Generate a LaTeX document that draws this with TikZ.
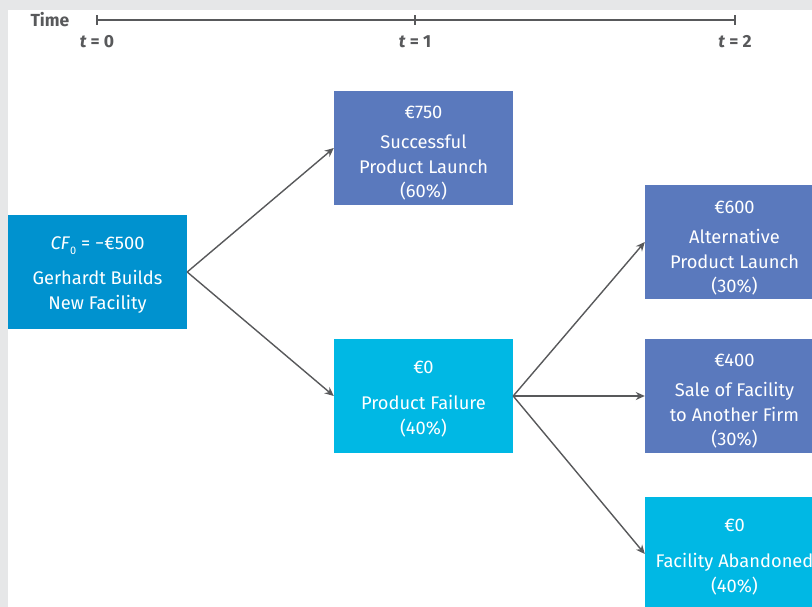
\documentclass[tikz,border=0pt]{standalone}
\usepackage{fontspec}
\setmainfont{Fira Sans}
\usetikzlibrary{arrows.meta}
\definecolor{bggray}{RGB}{230,231,232}
\definecolor{rootblue}{RGB}{0,146,207}
\definecolor{midblue}{RGB}{90,121,189}
\definecolor{cyanbox}{RGB}{0,184,228}
\definecolor{linegray}{RGB}{88,89,91}
\begin{document}
\begin{tikzpicture}[x=1pt,y=-1pt,
  box/.style={minimum width=179pt,minimum height=114pt,inner sep=0pt,text=white,align=center,font=\fontsize{18.3}{24.5}\selectfont},
  conn/.style={draw=linegray,line width=1.4pt,-{Stealth[length=9pt,width=8pt]}},
  axis/.style={draw=linegray,line width=1.3pt},
  tlabel/.style={font=\fontsize{17.5}{20}\selectfont\bfseries,text=linegray}]
\useasboundingbox (0,0) rectangle (812,607);
\fill[bggray] (0,0) rectangle (812,607);
\fill[white] (8,10) rectangle (812,607);
\begin{scope}
\clip (0,0) rectangle (812,607);
% time axis
\node[tlabel,anchor=west] (time) at (27,20) {Time};
\coordinate (t0) at (97,20);
\coordinate (t1) at (415,20);
\coordinate (t2) at (735,20);
\draw[axis] (t0) -- (t2);
\draw[axis] ([yshift=-5pt]t0) -- ([yshift=5pt]t0);
\draw[axis] ([yshift=-5pt]t1) -- ([yshift=5pt]t1);
\draw[axis] ([yshift=-5pt]t2) -- ([yshift=5pt]t2);
\node[tlabel] (l0) at (97,42) {\textit{t} = 0};
\node[tlabel] (l1) at (415,42) {\textit{t} = 1};
\node[tlabel] (l2) at (735,42) {\textit{t} = 2};
% boxes
\node[box,fill=rootblue] (root) at (97.5,272) {};
\node[box,fill=midblue] (succ) at (423.5,148) {};
\node[box,fill=cyanbox] (fail) at (423.5,396) {};
\node[box,fill=midblue] (alt) at (734.5,242) {};
\node[box,fill=midblue] (sale) at (734.5,396) {};
\node[box,fill=cyanbox] (aband) at (734.5,554) {};
\node[box,minimum height=0pt] (roottext) at ([yshift=-3pt]root.center) {\textit{CF}\raisebox{-0.5ex}{\fontsize{11}{11}\selectfont 0} = −€500\\[11pt]Gerhardt Builds\\New Facility};
\node[box,minimum height=0pt] (succtext) at ([yshift=-5pt]succ.center) {€750\\[6pt]Successful\\Product Launch\\(60\%)};
\node[box,minimum height=0pt] (failtext) at ([yshift=-3pt]fail.center) {€0\\[12pt]Product Failure\\(40\%)};
\node[box,minimum height=0pt] (alttext) at ([yshift=-6pt]alt.center) {€600\\[6pt]Alternative\\Product Launch\\(30\%)};
\node[box,minimum height=0pt] (saletext) at ([yshift=-5pt]sale.center) {€400\\[6pt]Sale of Facility\\to Another Firm\\(30\%)};
\node[box,minimum height=0pt] (abandtext) at ([yshift=-3pt]aband.center) {€0\\[12pt]Facility Abandoned\\(40\%)};
% connectors
\draw[conn] (root.east) -- (succ.west);
\draw[conn] (root.east) -- (fail.west);
\draw[conn] (fail.east) -- (alt.west);
\draw[conn] (fail.east) -- (sale.west);
\draw[conn] (fail.east) -- (aband.west);
\end{scope}
\end{tikzpicture}
\end{document}
